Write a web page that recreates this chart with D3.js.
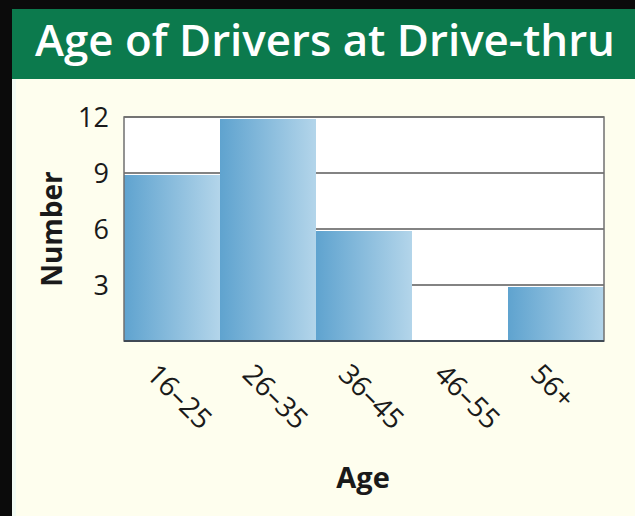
<!DOCTYPE html>
<html>
<head>
<meta charset="utf-8">
<script src="https://cdn.jsdelivr.net/npm/d3@7"></script>
<style>
  html, body { margin: 0; padding: 0; background: #0b0b0b; }
  svg { display: block; }
</style>
</head>
<body>
<script>
const title = "Age of Drivers at Drive-thru";
const categories = ["16–25", "26–35", "36–45", "46–55", "56+"];
const counts = [9, 12, 6, 0, 3];
const yTicks = [3, 6, 9, 12];
const xLabel = "Age";
const yLabel = "Number";

const W = 635, H = 516;
const svg = d3.select("body").append("svg").attr("width", W).attr("height", H);

const defs = svg.append("defs");
const grad = defs.append("linearGradient").attr("id", "barGrad")
  .attr("x1", "0%").attr("x2", "100%").attr("y1", "0%").attr("y2", "0%");
grad.append("stop").attr("offset", "0%").attr("stop-color", "#5fa3cf");
grad.append("stop").attr("offset", "100%").attr("stop-color", "#b3d5ea");

// frame
svg.append("rect").attr("x", 0).attr("y", 0).attr("width", W).attr("height", H).attr("fill", "#0b0b0b");
svg.append("rect").attr("x", 12).attr("y", 9).attr("width", W - 12).attr("height", 70).attr("fill", "#0c7a4d");
svg.append("rect").attr("x", 12).attr("y", 79).attr("width", W - 12).attr("height", H - 79).attr("fill", "#fefeee");
svg.append("rect").attr("x", 12).attr("y", 79).attr("width", 4).attr("height", H - 79).attr("fill", "#f2fbf3");

// title
const t = svg.append("text").attr("x", 35).attr("y", 56)
  .attr("fill", "#ffffff").attr("font-family", "'Open Sans', sans-serif")
  .attr("font-weight", 600).attr("font-size", 34).text(title);
const tw = t.node().getComputedTextLength();
t.attr("font-size", 34 * 580 / tw);

const m = { left: 124, right: 604, top: 117, bottom: 341 };
const x = d3.scaleBand().domain(categories).range([m.left, m.right]).padding(0);
const y = d3.scaleLinear().domain([0, 12]).range([m.bottom, m.top]);

// plot background
svg.append("rect").attr("x", m.left).attr("y", m.top)
  .attr("width", m.right - m.left).attr("height", m.bottom - m.top).attr("fill", "#ffffff");

// gridlines
svg.append("g").selectAll("line").data(yTicks).join("line")
  .attr("x1", m.left).attr("x2", m.right)
  .attr("y1", d => y(d)).attr("y2", d => y(d))
  .attr("stroke", "#5a5a5a").attr("stroke-width", 1.5);

// bars
svg.append("g").selectAll("rect").data(categories).join("rect")
  .attr("x", d => x(d))
  .attr("y", (d, i) => y(counts[i]) + 2)
  .attr("width", x.bandwidth())
  .attr("height", (d, i) => Math.max(0, y(0) - y(counts[i]) - 2))
  .attr("fill", "url(#barGrad)");

// border
svg.append("rect").attr("x", m.left).attr("y", m.top)
  .attr("width", m.right - m.left).attr("height", m.bottom - m.top)
  .attr("fill", "none").attr("stroke", "#707070").attr("stroke-width", 1.5);
svg.append("line").attr("x1", m.left).attr("x2", m.right)
  .attr("y1", m.bottom).attr("y2", m.bottom)
  .attr("stroke", "#404a55").attr("stroke-width", 2);

// y axis labels
const yAxis = d3.axisLeft(y).tickValues(yTicks).tickSize(0).tickPadding(0);
const yg = svg.append("g").attr("transform", `translate(${m.left - 15},0)`).call(yAxis);
yg.select(".domain").remove();
yg.selectAll("text").attr("font-family", "'Open Sans', sans-serif").attr("font-size", 27)
  .attr("fill", "#1a1a1a").attr("dy", "0.36em");

// x axis labels
const xAxis = d3.axisBottom(x).tickSize(0).tickPadding(0);
const xg = svg.append("g").attr("transform", `translate(0,${m.bottom})`).call(xAxis);
xg.select(".domain").remove();
xg.selectAll("text")
  .attr("font-family", "'Open Sans', sans-serif").attr("font-size", 28).attr("fill", "#1a1a1a")
  .attr("text-anchor", "start").attr("x", 0).attr("y", 0).attr("dy", 0)
  .attr("transform", "translate(-27,35) rotate(45)");

// axis titles
svg.append("text").attr("x", 363).attr("y", 488).attr("text-anchor", "middle")
  .attr("font-family", "'Open Sans', sans-serif").attr("font-weight", 700).attr("font-size", 29)
  .attr("fill", "#1a1a1a").text(xLabel);
svg.append("text").attr("transform", "translate(62,229) rotate(-90)").attr("text-anchor", "middle")
  .attr("font-family", "'Open Sans', sans-serif").attr("font-weight", 700).attr("font-size", 28)
  .attr("fill", "#1a1a1a").text(yLabel);
</script>
</body>
</html>
